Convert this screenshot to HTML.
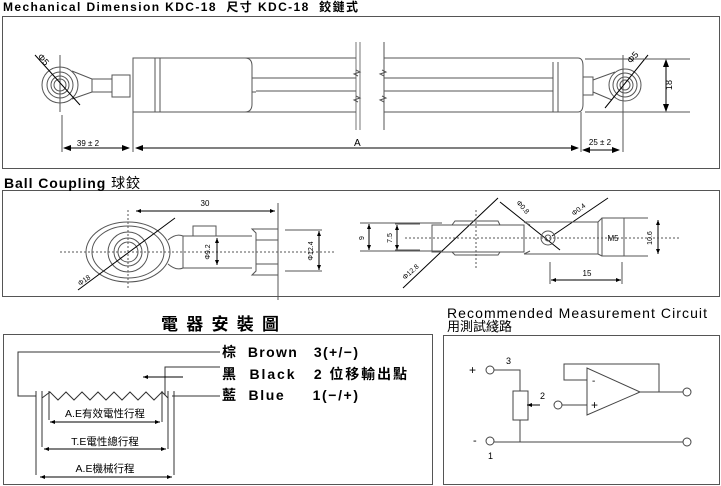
<!DOCTYPE html>
<html><head><meta charset="utf-8"><style>
html,body{margin:0;padding:0;background:#fff;}
svg{display:block;font-family:"Liberation Sans","Noto Sans CJK TC",sans-serif;}
</style></head><body>
<svg width="721" height="486" viewBox="0 0 721 486" xmlns="http://www.w3.org/2000/svg">
<defs>
<marker id="a" markerWidth="8" markerHeight="6" refX="7" refY="3" orient="auto-start-reverse" markerUnits="userSpaceOnUse"><path d="M0,0 L8,3 L0,6z" fill="#000"/></marker>
<marker id="s" markerWidth="5" markerHeight="4" refX="5" refY="2" orient="auto-start-reverse" markerUnits="userSpaceOnUse"><path d="M0,0 L5,2 L0,4z" fill="#000"/></marker>
</defs>
<g fill="none" stroke="#555" stroke-width="1">
<rect x="2.5" y="16.5" width="717" height="152"/>
<circle cx="60" cy="85" r="18"/><circle cx="60" cy="85" r="13"/><circle cx="60" cy="85" r="9"/><circle cx="60" cy="85" r="6"/>
<path d="M72,71 L92,79 M72,99 L92,92"/>
<line x1="60" y1="55" x2="60" y2="112"/>
<line x1="35" y1="55" x2="80" y2="105" stroke="#000"/>
<rect x="92" y="79" width="20" height="13"/>
<rect x="112" y="75" width="18" height="22"/>
<path d="M133,58 H245 Q252,58 252,66 V104 Q252,112 245,112 H133 Z"/>
<line x1="155" y1="58" x2="155" y2="112"/><line x1="160" y1="58" x2="160" y2="112"/>
<line x1="252" y1="78" x2="256" y2="78"/><line x1="252" y1="92" x2="256" y2="92"/>
<path d="M133,58 V112 M133,112 V152"/>
<path d="M133,112 H356 M133,58 H356 M256,78 H356 M256,91 H356"/>
<path d="M356,42 V130 M360,42 V130" stroke-width="0.8"/>
<path d="M356,70 L360,72 L354,74 L358,76 M356,96 L360,98 L354,100 L358,102"/>
<path d="M384,42 V130"/>
<path d="M384,58 H578 Q583,58 583,66 V104 Q583,112 578,112 H384 M384,78 H553 M384,91 H553"/>
<path d="M382,70 L386,72 L380,74 L384,76 M382,96 L386,98 L380,100 L384,102"/>
<line x1="553" y1="62" x2="553" y2="112"/><line x1="558" y1="62" x2="558" y2="112"/>
<rect x="583" y="77" width="10" height="18"/>
<path d="M593,80 L615,72 M593,92 L612,100"/>
<circle cx="625" cy="85" r="16"/><circle cx="625" cy="85" r="12"/><circle cx="625" cy="85" r="8"/><circle cx="625" cy="85" r="5"/>
<line x1="623" y1="55" x2="623" y2="152"/>
<line x1="605" y1="108" x2="648" y2="55" stroke="#000"/>
<path d="M585,59 H690 M585,112 H690"/>
<line x1="581" y1="112" x2="581" y2="152"/>
<line x1="62" y1="115" x2="62" y2="152"/>
<g stroke="#000">
<line x1="666" y1="60" x2="666" y2="111" marker-start="url(#a)" marker-end="url(#a)"/>
<line x1="64" y1="148" x2="129" y2="148" marker-start="url(#a)" marker-end="url(#a)"/>
<line x1="136" y1="148" x2="578" y2="148" marker-start="url(#a)" marker-end="url(#a)"/>
<line x1="583" y1="150" x2="619" y2="150" marker-start="url(#a)" marker-end="url(#a)"/>
</g>
<rect x="2.5" y="190.5" width="717" height="106"/>
<line x1="60" y1="252" x2="335" y2="252" stroke-dasharray="2,2"/>
<line x1="128" y1="210" x2="128" y2="290" stroke-dasharray="2,2"/>
<ellipse cx="128" cy="252" rx="42" ry="30"/>
<path d="M168,240 Q176,233 183,236 V268 Q176,271 168,264"/>
<ellipse cx="128" cy="252" rx="36" ry="26"/>
<circle cx="128" cy="252" r="20"/><circle cx="128" cy="252" r="14"/><circle cx="128" cy="252" r="10"/>
<line x1="78" y1="290" x2="175" y2="218" stroke="#000"/>
<path d="M183,236 H252 M183,268 H252"/>
<rect x="193" y="226" width="23" height="10"/>
<path d="M252,229 H278 V275 H252 L256,271 V233 Z M256,240 H278 M256,264 H278"/>
<line x1="278" y1="203" x2="278" y2="300"/>
<path d="M285,230 H322 M285,271 H322"/>
<g stroke="#000">
<line x1="136" y1="211" x2="275" y2="211" marker-start="url(#s)" marker-end="url(#s)"/>
<line x1="217" y1="238" x2="217" y2="265" marker-start="url(#s)" marker-end="url(#s)"/>
<line x1="319" y1="231" x2="319" y2="270" marker-start="url(#s)" marker-end="url(#s)"/>
<line x1="369" y1="224" x2="369" y2="250" marker-start="url(#s)" marker-end="url(#s)"/>
<line x1="397" y1="225" x2="397" y2="250" marker-start="url(#s)" marker-end="url(#s)"/>
<line x1="658" y1="220" x2="658" y2="254" marker-start="url(#s)" marker-end="url(#s)"/>
<line x1="551" y1="280" x2="621" y2="280" marker-start="url(#s)" marker-end="url(#s)"/>
<line x1="403" y1="288" x2="498" y2="198"/>
<line x1="500" y1="202" x2="560" y2="250"/>
<line x1="608" y1="198" x2="552" y2="236"/>
</g>
<path d="M360,223 H442 M360,251 H442 M395,224 H420 M395,250 H420"/>
<line x1="405" y1="238" x2="680" y2="238" stroke-dasharray="2,2"/>
<line x1="476" y1="210" x2="476" y2="270" stroke-dasharray="2,2"/>
<rect x="432" y="225" width="92" height="27"/>
<path d="M452,225 L455,221 H498 L500,225 M452,252 L455,255 H498 L500,252"/>
<path d="M524,222 H598 M524,254 H598 M524,222 L530,225 M524,254 L530,251"/>
<circle cx="548" cy="238" r="7"/><circle cx="548" cy="238" r="3"/>
<path d="M598,222 L602,218 M598,254 L602,256 M598,222 V254"/>
<rect x="602" y="218" width="22" height="38"/>
<path d="M624,218 H648 M624,256 H648 M550,262 V284 M622,262 V284"/>
<rect x="3.5" y="334.5" width="429" height="150"/>
<path d="M220,352 H18 V396 H36" stroke="#333"/>
<path d="M42,398 L50,392 L58,400 L66,392 L74,400 L82,392 L90,400 L98,392 L106,400 L114,392 L122,400 L130,392 L138,400 L146,392 L154,400 L162,392 L168,398" stroke="#333"/>
<path d="M165,395 V367 H220" stroke="#333"/>
<path d="M172,396 H220" stroke="#333"/>
<path d="M36,391 V475 M42,391 V447 M49,391 V420 M162,391 V422 M168,391 V449 M174,391 V475" stroke="#333"/>
<g stroke="#000">
<line x1="183" y1="377" x2="143" y2="377" marker-end="url(#s)"/>
<line x1="50" y1="422" x2="160" y2="422" marker-start="url(#s)" marker-end="url(#s)"/>
<line x1="44" y1="449" x2="166" y2="449" marker-start="url(#s)" marker-end="url(#s)"/>
<line x1="40" y1="477" x2="172" y2="477" marker-start="url(#s)" marker-end="url(#s)"/>
</g>
<rect x="443.5" y="335.5" width="276" height="149"/>
<g stroke="#444">
<circle cx="490" cy="370" r="4"/><circle cx="490" cy="441" r="4"/><circle cx="558" cy="405" r="4"/>
<circle cx="687" cy="392" r="4"/><circle cx="687" cy="442" r="4"/>
<path d="M494,370 H520 V442 M494,442 H683"/>
<rect x="513" y="391" width="15" height="29" fill="#fff"/>
<path d="M562,405 H587 M587,368 V415 L640,392 Z M640,392 H683 M587,380 H564 V364 H659 V392"/>
<line x1="540" y1="405" x2="527" y2="405" stroke="#000" marker-end="url(#s)"/>
</g>
</g>
<g fill="#000" font-size="10">
<text x="3" y="11" font-size="12" font-weight="bold" textLength="355" lengthAdjust="spacing">Mechanical Dimension KDC-18 &#160;尺寸 KDC-18 &#160;鉸鏈式</text>
<text x="88" y="146" font-size="8" text-anchor="middle">39 ± 2</text>
<text x="354" y="146" font-size="10">A</text>
<text x="600" y="145" font-size="8" text-anchor="middle">25 ± 2</text>
<text transform="translate(672,85) rotate(-90)" font-size="9" text-anchor="middle">18</text>
<text transform="translate(37,57) rotate(48)" font-size="9">Φ5</text>
<text transform="translate(631,64) rotate(-48)" font-size="9">Φ5</text>
<text x="4" y="188" font-size="14" font-weight="bold" textLength="136" lengthAdjust="spacing">Ball Coupling <tspan font-weight="normal">球鉸</tspan></text>
<text x="205" y="206" font-size="8" text-anchor="middle">30</text>
<text transform="translate(210,252) rotate(-90)" font-size="7" text-anchor="middle">Φ9.2</text>
<text transform="translate(313,251) rotate(-90)" font-size="7" text-anchor="middle">Φ12.4</text>
<text transform="translate(80,286) rotate(-35)" font-size="7">Φ18</text>
<text transform="translate(364,238) rotate(-90)" font-size="7" text-anchor="middle">9</text>
<text transform="translate(392,238) rotate(-90)" font-size="7" text-anchor="middle">7.5</text>
<text transform="translate(405,280) rotate(-42)" font-size="7">Φ12.8</text>
<text transform="translate(516,203) rotate(48)" font-size="7">Φ0.8</text>
<text transform="translate(574,216) rotate(-38)" font-size="7">Φ0.4</text>
<text x="613" y="241" font-size="8" text-anchor="middle">M5</text>
<text transform="translate(652,238) rotate(-90)" font-size="7" text-anchor="middle">10.6</text>
<text x="587" y="276" font-size="8" text-anchor="middle">15</text>
<text x="161" y="330" font-size="17" font-weight="bold" textLength="118" lengthAdjust="spacing">電器安裝圖</text>
<g font-size="14" font-weight="bold">
<text x="222" y="357" textLength="136" lengthAdjust="spacing">棕 &#160;Brown &#160; 3(+/−)</text>
<text x="222" y="379" textLength="185" lengthAdjust="spacing">黑 &#160;Black &#160; 2 位移輸出點</text>
<text x="222" y="400" textLength="136" lengthAdjust="spacing">藍 &#160;Blue &#160; &#160; 1(−/+)</text>
</g>
<g font-size="10.5" text-anchor="middle">
<text x="105" y="417">A.E有效電性行程</text>
<text x="105" y="445">T.E電性總行程</text>
<text x="105" y="472">A.E機械行程</text>
</g>
<text x="447" y="318" font-size="14" textLength="260" lengthAdjust="spacing">Recommended Measurement Circuit</text>
<text x="447" y="331" font-size="13">用測試綫路</text>
<text x="469" y="374" font-size="12">+</text>
<text x="473" y="444" font-size="11">-</text>
<text x="506" y="364" font-size="9">3</text>
<text x="488" y="459" font-size="9">1</text>
<text x="540" y="399" font-size="9">2</text>
<text x="592" y="384" font-size="10">-</text>
<text x="591" y="409" font-size="12">+</text>
</g>
</svg>
</body></html>
